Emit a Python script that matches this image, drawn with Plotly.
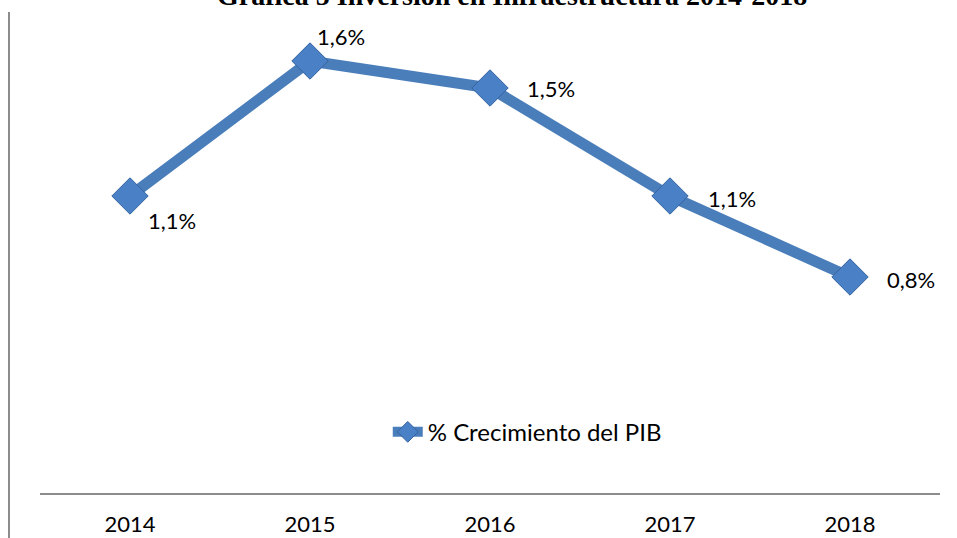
import plotly.graph_objects as go

years = ["2014", "2015", "2016", "2017", "2018"]
growth = [1.1, 1.6, 1.5, 1.1, 0.8]
series_name = "% Crecimiento del PIB"
title_text = "Gráfica 5 Inversión en Infraestructura 2014-2018"

# label offsets (pixels) per point: (xshift, yshift)
label_offsets = [(16, -24), (5, 25), (35, 0), (36, -2), (35, -2)]

FONT = "Lato, Open Sans, sans-serif"
LINE_COLOR = "#4a7ebb"

fig = go.Figure()
fig.add_trace(go.Scatter(
    x=years, y=growth, name=series_name, mode="lines+markers",
    line=dict(color=LINE_COLOR, width=11),
    marker=dict(symbol="diamond", size=28, color="#4a80c6",
                line=dict(color="#34639f", width=1)),
    showlegend=True,
))

for i, v in enumerate(growth):
    dx, dy = label_offsets[i]
    fig.add_annotation(
        x=i, y=v, xref="x", yref="y",
        text=f"{v:.1f}%".replace(".", ","),
        showarrow=False, xanchor="left", yanchor="middle",
        xshift=dx, yshift=dy,
        font=dict(family=FONT, size=22, color="#000000"),
    )

fig.add_annotation(
    x=0.524, y=1, xref="paper", yref="paper",
    text=f"<b>{title_text}</b>", showarrow=False,
    xanchor="center", yanchor="bottom", yshift=-6,
    font=dict(family="Liberation Serif, Times New Roman, serif", size=28, color="#000000"),
)

# left border line of the document frame
fig.add_shape(type="line", xref="paper", yref="paper",
              x0=-31 / 900, x1=-31 / 900, y0=1 - 5 / 486, y1=-45 / 486,
              line=dict(color="#8c8c8c", width=2))

fig.update_layout(
    width=957, height=538,
    margin=dict(l=40, r=17, t=7, b=45, autoexpand=False),
    paper_bgcolor="white", plot_bgcolor="white",
    font=dict(family=FONT, size=22, color="#000000"),
    xaxis=dict(
        type="category", showgrid=False, zeroline=False,
        showline=True, linecolor="#8c8c8c", linewidth=2,
        ticks="", ticklabelstandoff=11, automargin=False,
        tickfont=dict(family=FONT, size=22, color="#000000"),
        range=[-0.5, 4.5],
    ),
    yaxis=dict(range=[0, 1.8], visible=False, showgrid=False, zeroline=False,
               automargin=False),
    legend=dict(
        x=0.3864, y=0.125, xanchor="left", yanchor="middle",
        bgcolor="rgba(0,0,0,0)", font=dict(family=FONT, size=24, color="#000000"),
        itemsizing="trace",
    ),
    showlegend=True,
)

fig.write_html(
    "out.html",
    config={"displayModeBar": False},
    post_script="document.body.style.margin='0';document.body.style.overflow='hidden';",
)
